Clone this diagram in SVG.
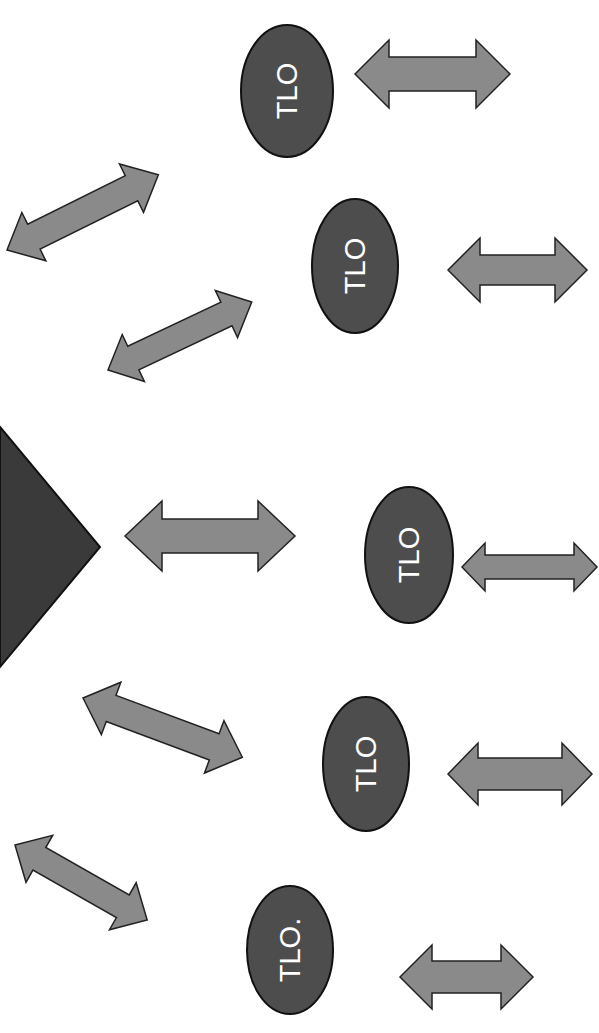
<svg xmlns="http://www.w3.org/2000/svg" width="599" height="1033" viewBox="0 0 599 1033">
<style>
.tlo{fill:#4d4d4d;stroke:#111;stroke-width:2}
.arr{fill:#8a8a8a;stroke:#222;stroke-width:1.5;stroke-linejoin:miter}
.tri{fill:#3a3a3a;stroke:#111;stroke-width:2}
.lbl{font-family:"Liberation Sans",Arial,sans-serif;font-size:29px;fill:#fff;text-anchor:middle}
</style>
<rect width="599" height="1033" fill="#fff"/>
<g id="hub"><polygon class="tri" points="0,427 100,547 0,667"/></g>
<g id="tlo1"><ellipse class="tlo" cx="287" cy="91" rx="46" ry="66"/><text class="lbl" transform="translate(287,91) rotate(-90)" dy="10">TLO</text></g>
<g id="tlo2"><ellipse class="tlo" cx="355" cy="266" rx="43" ry="67"/><text class="lbl" transform="translate(355,266) rotate(-90)" dy="10">TLO</text></g>
<g id="tlo3"><ellipse class="tlo" cx="409" cy="555" rx="44" ry="68"/><text class="lbl" transform="translate(409,555) rotate(-90)" dy="10">TLO</text></g>
<g id="tlo4"><ellipse class="tlo" cx="366" cy="764" rx="43" ry="67"/><text class="lbl" transform="translate(366,764) rotate(-90)" dy="10">TLO</text></g>
<g id="tlo5"><ellipse class="tlo" cx="290" cy="950" rx="43" ry="64"/><text class="lbl" transform="translate(290,950) rotate(-90)" dy="10">TLO.</text></g>
<g id="connectors">
<polygon class="arr" transform="translate(355,74)" points="0,0 34,-34 34,-17 121,-17 121,-34 155,0 121,34 121,17 34,17 34,34"/>
<polygon class="arr" transform="translate(448,270)" points="0,0 32,-32 32,-15 107,-15 107,-32 139,0 107,32 107,15 32,15 32,32"/>
<polygon class="arr" transform="translate(125,536)" points="0,0 37,-35 37,-17 133,-17 133,-35 170,0 133,35 133,17 37,17 37,35"/>
<polygon class="arr" transform="translate(462,567)" points="0,0 23,-24 23,-12 112,-12 112,-24 135,0 112,24 112,12 23,12 23,24"/>
<polygon class="arr" transform="translate(448,774)" points="0,0 30,-31 30,-16 114,-16 114,-31 144,0 114,31 114,16 30,16 30,31"/>
<polygon class="arr" transform="translate(400,977)" points="0,0 32,-32 32,-16 101,-16 101,-32 133,0 101,32 101,16 32,16 32,32"/>
<polygon class="arr" transform="translate(7,250) rotate(-26.4)" points="0,0 30,-27 30,-14 139,-14 139,-27 169,0 139,27 139,14 30,14 30,27"/>
<polygon class="arr" transform="translate(108,370) rotate(-25.3)" points="0,0 28,-26 28,-13 131,-13 131,-26 159,0 131,26 131,13 28,13 28,26"/>
<polygon class="arr" transform="translate(83,698) rotate(20.4)" points="0,0 30,-28 30,-14 140,-14 140,-28 170,0 140,28 140,14 30,14 30,28"/>
<polygon class="arr" transform="translate(15,845) rotate(29.6)" points="0,0 28,-27 28,-13 124,-13 124,-27 152,0 124,27 124,13 28,13 28,27"/>
</g>
</svg>
